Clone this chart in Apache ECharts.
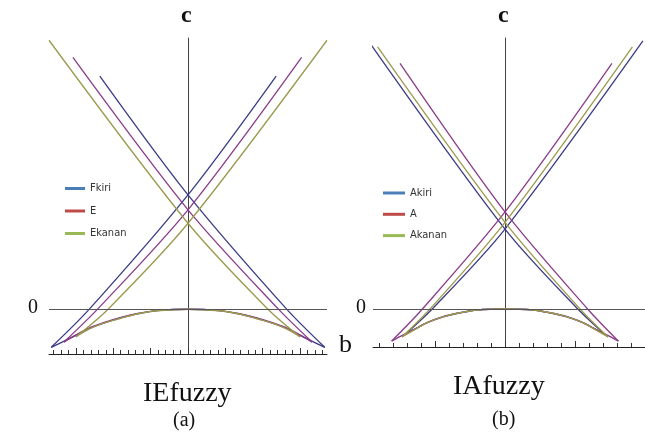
<!DOCTYPE html>
<html><head><meta charset="utf-8">
<script src="https://cdn.jsdelivr.net/npm/echarts@6/dist/echarts.min.js"></script>
<style>html,body{margin:0;padding:0;background:#fff}#c{width:645px;height:439px}</style>
</head><body><div id="c"></div>
<script>
// ---------- Panel (a) IEfuzzy : [b, c] points ----------
const seriesNamesA = ['Fkiri', 'E', 'Ekanan'];
const aFkiriDown = [[-11.8, 31.2], [0, 15.3], [13.2, 0], [18.3, -5.1]];
const aFkiriUp   = [[-18.3, -5.1], [-13.2, 0], [0, 15.3], [11.8, 31.2]];
const aFkiriArc  = [[-18.3, -5.1], [-15.0, -3.5], [-13.2, -2.6], [-11.4, -1.9], [-9.1, -1.2], [-6.9, -0.65], [-4.2, -0.2], [0, 0], [4.2, -0.2], [6.9, -0.65], [9.1, -1.2], [11.4, -1.9], [13.2, -2.6], [15.0, -3.5], [18.3, -5.1]];
const aEDown = [[-15.4, 33.7], [0, 13.3], [12.1, 0], [16.6, -4.4]];
const aEUp   = [[-16.6, -4.4], [-12.1, 0], [0, 13.3], [15.2, 33.7]];
const aEArc  = [[-16.6, -4.4], [-15.0, -3.45], [-13.2, -2.5], [-11.4, -1.85], [-9.1, -1.15], [-6.9, -0.6], [-4.2, -0.2], [0, 0], [4.2, -0.2], [6.9, -0.6], [9.1, -1.15], [11.4, -1.85], [13.2, -2.5], [15.0, -3.45], [16.6, -4.4]];
const aEkananDown = [[-18.6, 36.0], [0, 11.5], [10.7, 0], [15.0, -3.7]];
const aEkananUp   = [[-15.0, -3.7], [-10.7, 0], [0, 11.5], [18.6, 36.0]];
const aEkananArc  = [[-15.0, -3.7], [-13.2, -2.65], [-11.4, -1.9], [-9.1, -1.25], [-6.9, -0.65], [-4.2, -0.22], [0, 0], [4.2, -0.22], [6.9, -0.65], [9.1, -1.25], [11.4, -1.9], [13.2, -2.65], [15.0, -3.7]];
const aMinorTicks = [-18,-17,-16,-15,-14,-13,-12,-11,-10,-9,-8,-7,-6,-5,-4,-3,-2,-1,0,1,2,3,4,5,6,7,8,9,10,11,12,13,14,15,16,17,18];
const aMajorTicks = [-15, -10, -5, 0, 5, 10, 15];

// ---------- Panel (b) IAfuzzy ----------
const seriesNamesB = ['Akiri', 'A', 'Akanan'];
const bAkiriDown = [[-9.8, 36.0], [0, 10.7], [5.2, 0], [7.2, -3.5]];
const bAkiriUp   = [[-7.2, -3.5], [-5.2, 0], [0, 10.7], [9.85, 35.9]];
const bAkiriArc  = [[-7.2, -3.5], [-6.29, -2.54], [-5.57, -1.83], [-4.43, -1.03], [-3.2, -0.5], [-2.0, -0.13], [0, 0], [2.0, -0.13], [3.2, -0.5], [4.43, -1.03], [5.57, -1.83], [6.29, -2.54], [7.2, -3.5]];
const bADown = [[-7.5, 32.9], [0, 13.0], [5.9, 0], [8.1, -4.3]];
const bAUp   = [[-8.1, -4.3], [-5.9, 0], [0, 13.0], [7.64, 32.9]];
const bAArc  = [[-8.1, -4.3], [-7.3, -3.5], [-6.3, -2.55], [-5.6, -1.85], [-4.4, -1.05], [-3.2, -0.5], [-2.0, -0.13], [0, 0], [2.0, -0.13], [3.2, -0.5], [4.4, -1.05], [5.6, -1.85], [6.3, -2.55], [7.3, -3.5], [8.1, -4.3]];
const bAkananDown = [[-9.1, 35.1], [0, 11.6], [5.36, 0], [7.36, -3.75]];
const bAkananUp   = [[-7.36, -3.75], [-5.36, 0], [0, 11.6], [9.1, 35.1]];
const bAkananArc  = [[-7.36, -3.75], [-6.3, -2.6], [-5.6, -1.85], [-4.43, -1.05], [-3.2, -0.5], [-2.0, -0.13], [0, 0], [2.0, -0.13], [3.2, -0.5], [4.43, -1.05], [5.6, -1.85], [6.3, -2.6], [7.36, -3.75]];
const bMinorTicks = [-9,-8,-7,-6,-5,-4,-3,-2,-1,0,1,2,3,4,5,6,7,8,9,10];
const bMajorTicks = [-5, 0, 5, 10];

// ---------- styling ----------
const lineColors = ['#3b3b86', '#8b3c88', '#9c9a4e'];
const legendColors = ['#4a7ebb', '#be4b48', '#98b954'];

const chart = echarts.init(document.getElementById('c'), null, {renderer: 'canvas'});

function ln(name, data, color, gi, w) {
  return {
    name: name, type: 'line', data: data, xAxisIndex: gi * 2, yAxisIndex: gi,
    showSymbol: false, symbol: 'none', smooth: 0.3, clip: false, silent: true,
    lineStyle: {color: color, width: w}, itemStyle: {color: color}, z: 3
  };
}
function zeroLine(gi) {
  return {
    type: 'line', data: [], xAxisIndex: gi * 2, yAxisIndex: gi, silent: true,
    markLine: {silent: true, symbol: 'none', label: {show: false}, animation: false,
      lineStyle: {color: '#555', width: 1.2, type: 'solid'}, data: [{yAxis: 0}]}
  };
}
function xAxes(gi, min, max, minor, major) {
  return [
    {gridIndex: gi, type: 'value', min: min, max: max, position: 'bottom',
     axisLine: {onZero: false, lineStyle: {color: '#222', width: 1}},
     axisTick: {show: true, inside: true, length: 4, customValues: minor, lineStyle: {color: '#333'}},
     axisLabel: {show: false}, splitLine: {show: false}},
    {gridIndex: gi, type: 'value', min: min, max: max, position: 'bottom',
     axisLine: {show: false, onZero: false},
     axisTick: {show: true, inside: true, length: 6, customValues: major, lineStyle: {color: '#333'}},
     axisLabel: {show: false}, splitLine: {show: false}}
  ];
}
function yAx(gi, min, max) {
  return {gridIndex: gi, type: 'value', min: min, max: max,
    axisLine: {show: true, onZero: true, onZeroAxisIndex: gi * 2, lineStyle: {color: '#444', width: 1}},
    axisTick: {show: false}, axisLabel: {show: false}, splitLine: {show: false}};
}

const xa = xAxes(0, -18.6, 18.6, aMinorTicks, aMajorTicks);
const xb = xAxes(1, -9.43, 10.0, bMinorTicks, bMajorTicks);

const legendText = {color: '#333', fontSize: 11, fontFamily: 'Liberation Sans Narrow, DejaVu Sans Condensed, sans-serif'};
const serif = 'Liberation Serif, Times New Roman, serif';

const option = {
  animation: false,
  backgroundColor: '#fff',
  grid: [
    {left: 49, top: 38, width: 278, height: 316},
    {left: 373, top: 38, width: 272, height: 309}
  ],
  xAxis: [xa[0], xa[1], xb[0], xb[1]],
  yAxis: [yAx(0, -6, 36.3), yAx(1, -5.09, 36.3)],
  legend: [
    {orient: 'vertical', left: 60, top: 178, itemWidth: 20, itemHeight: 3, itemGap: 11.5, icon: 'rect',
     textStyle: legendText, selectedMode: false,
     data: seriesNamesA.map((n, i) => ({name: n, itemStyle: {color: legendColors[i]}, lineStyle: {color: legendColors[i]}}))},
    {orient: 'vertical', left: 378, top: 182.5, itemWidth: 22, itemHeight: 3, itemGap: 10.3, icon: 'rect',
     textStyle: legendText, selectedMode: false,
     data: seriesNamesB.map((n, i) => ({name: n, itemStyle: {color: legendColors[i]}, lineStyle: {color: legendColors[i]}}))}
  ],
  series: [
    zeroLine(0), zeroLine(1),
    ln(seriesNamesA[0], aFkiriDown, lineColors[0], 0, 1.3),
    ln(seriesNamesA[0], aFkiriUp, lineColors[0], 0, 1.3),
    ln(seriesNamesA[0], aFkiriArc, lineColors[0], 0, 1.4),
    ln(seriesNamesA[1], aEDown, lineColors[1], 0, 1.3),
    ln(seriesNamesA[1], aEUp, lineColors[1], 0, 1.3),
    ln(seriesNamesA[1], aEArc, lineColors[1], 0, 1.4),
    ln(seriesNamesA[2], aEkananDown, lineColors[2], 0, 1.3),
    ln(seriesNamesA[2], aEkananUp, lineColors[2], 0, 1.3),
    ln(seriesNamesA[2], aEkananArc, lineColors[2], 0, 1.4),
    ln(seriesNamesB[0], bAkiriDown, lineColors[0], 1, 1.3),
    ln(seriesNamesB[0], bAkiriUp, lineColors[0], 1, 1.3),
    ln(seriesNamesB[0], bAkiriArc, lineColors[0], 1, 1.4),
    ln(seriesNamesB[1], bADown, lineColors[1], 1, 1.3),
    ln(seriesNamesB[1], bAUp, lineColors[1], 1, 1.3),
    ln(seriesNamesB[1], bAArc, lineColors[1], 1, 1.4),
    ln(seriesNamesB[2], bAkananDown, lineColors[2], 1, 1.3),
    ln(seriesNamesB[2], bAkananUp, lineColors[2], 1, 1.3),
    ln(seriesNamesB[2], bAkananArc, lineColors[2], 1, 1.4)
  ],
  graphic: [
    {type: 'text', left: 181, top: 4, style: {text: 'c', font: 'bold 24px ' + serif, fill: '#111'}},
    {type: 'text', left: 498, top: 4, style: {text: 'c', font: 'bold 24px ' + serif, fill: '#111'}},
    {type: 'text', left: 28, top: 298, style: {text: '0', font: '20px ' + serif, fill: '#111'}},
    {type: 'text', left: 356, top: 298, style: {text: '0', font: '20px ' + serif, fill: '#111'}},
    {type: 'text', left: 339, top: 332, style: {text: 'b', font: '26px ' + serif, fill: '#111'}},
    {type: 'text', left: 143, top: 380, style: {text: 'IEfuzzy', font: '28px ' + serif, fill: '#111'}},
    {type: 'text', left: 173, top: 411, style: {text: '(a)', font: '20px ' + serif, fill: '#111'}},
    {type: 'text', left: 453, top: 373, style: {text: 'IAfuzzy', font: '28px ' + serif, fill: '#111'}},
    {type: 'text', left: 492, top: 410, style: {text: '(b)', font: '20px ' + serif, fill: '#111'}}
  ]
};
chart.setOption(option);
</script></body></html>
